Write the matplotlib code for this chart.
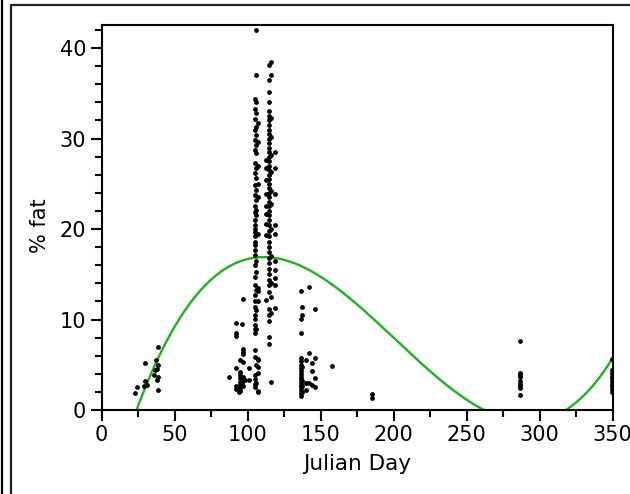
import numpy as np
import matplotlib
matplotlib.use("Agg")
import matplotlib.pyplot as plt
from matplotlib.lines import Line2D
from matplotlib.ticker import MultipleLocator

# ---- data ----
days_feb = [23, 24, 29, 30, 30, 31, 36, 36.5, 37.5, 38, 38, 38.5, 38.5, 39, 39]
fat_feb = [1.9, 2.5, 2.6, 3.2, 5.2, 2.8, 3.9, 4.4, 5.5, 4.5, 3.3, 3.7, 5.0, 2.2, 7.0]

days_apr = [87.5, 92, 92, 92, 92, 92, 92, 94, 95, 95, 95, 95, 95, 95, 95, 95,
            96, 96, 97, 97, 97, 97, 97, 97, 97, 97, 98.5, 101, 101]
fat_apr = [3.7, 9.6, 8.5, 8.2, 4.6, 2.6, 2.3, 2.0, 5.5, 4.2, 3.9, 3.5, 3.1, 2.8, 2.4, 2.1,
           9.5, 3.0, 12.3, 6.7, 6.4, 6.2, 5.3, 3.7, 3.3, 2.6, 3.3, 3.3, 4.6]

fat_d105 = [2.5, 2.9, 3.4, 3.9, 6.6, 5.9, 8.5, 8.9, 9.4, 10.1, 10.5, 11.4, 12.0, 12.7,
            13.8, 14.7, 16.0, 17.1, 17.7, 18.2, 18.6, 19.2, 19.7, 20.0, 20.4, 21.0,
            21.9, 22.6, 23.8, 24.9, 26.2, 27.3, 28.7, 29.8, 30.9, 32.2, 33.3, 34.4]
fat_d106 = [3.0, 5.0, 9.0, 11.0, 13.3, 15.3, 16.5, 21.5, 22.1, 23.2, 24.3, 25.6, 26.7,
            28.4, 29.3, 30.4, 31.3, 32.8, 34.0, 37.0, 42.0]
fat_d107 = [2.1, 2.0, 4.1, 4.8, 5.5, 5.6, 13.1, 13.5, 12.0, 19.5, 23.5, 25.0, 27.0, 29.6, 31.7]
fat_d112 = [12.2, 19.3, 20.6, 21.7, 22.6, 23.9, 25.4, 26.7, 27.6]
fat_d115 = [7.3, 8.1, 9.8, 10.5, 11.2, 13.0, 13.8, 14.4, 15.0, 15.6, 16.2, 16.8, 17.5,
            18.0, 18.6, 19.2, 19.8, 20.4, 21.0, 21.5, 22.0, 22.5, 23.0, 23.5, 24.0, 24.5,
            25.0, 25.5, 26.0, 26.5, 27.0, 27.5, 28.0, 28.5, 29.0, 29.5, 30.0, 30.5, 31.0,
            31.5, 32.0, 32.5, 33.1, 34.0, 35.2, 36.5, 38.1]
fat_d116 = [3.1, 10.7, 12.5, 14.0, 17.0, 20.0, 22.8, 24.2, 26.3, 28.2, 30.2, 32.3, 37.0, 38.5]
fat_d118 = [11.3, 13.8, 14.6, 15.5, 16.5, 19.5, 20.5, 23.9, 26.8, 28.5]
fat_d136 = [13.2, 10.1, 8.5, 5.8, 5.4, 5.0, 4.6, 4.3, 4.0, 3.7, 3.4, 3.1, 2.8, 2.5, 2.2, 1.9, 1.6]
fat_d137 = [11.4, 10.5, 4.8, 3.2, 2.6, 2.0]
fat_d140 = [5.5, 3.0, 2.2]
fat_d142 = [13.6, 6.3, 3.0]
fat_d144 = [5.2, 4.3, 2.8]
fat_d146 = [11.2, 5.7, 3.5, 2.5]
fat_d158 = [4.9]
fat_d185 = [1.3, 1.8]
fat_d286 = [7.6, 4.1, 3.9, 3.6, 3.2, 2.9, 2.7, 2.4, 1.7]
fat_d349 = [5.6, 4.4, 4.1, 3.8, 3.5, 3.2, 2.9, 2.6, 2.3, 2.0]

sample_days = [105, 106, 107.5, 112.5, 115, 116, 118.5, 136.5, 137.5, 140, 142,
               144.5, 146.5, 158, 185, 286.5, 349.5]
sample_fats = [fat_d105, fat_d106, fat_d107, fat_d112, fat_d115, fat_d116, fat_d118,
               fat_d136, fat_d137, fat_d140, fat_d142, fat_d144, fat_d146, fat_d158,
               fat_d185, fat_d286, fat_d349]

# fitted cubic curve (roots and scale)
fit_roots = [24, 262, 318]
fit_scale = 6.215e-6

x_ticks = [0, 50, 100, 150, 200, 250, 300, 350]
y_ticks = [0, 10, 20, 30, 40]

# ---- assemble ----
julian = list(days_feb) + list(days_apr)
fat = list(fat_feb) + list(fat_apr)
for d, vals in zip(sample_days, sample_fats):
    julian += [d] * len(vals)
    fat += list(vals)

plt.rcParams['font.family'] = ['DejaVu Sans']

fig = plt.figure(figsize=(6.30, 4.94), dpi=100)
W, H = 630, 494
left, right, top, bottom = 101.5, 612.5, 25, 410
ax = fig.add_axes([left / W, 1 - bottom / H, (right - left) / W, (bottom - top) / H])

ax.scatter(julian, fat, s=12, color='black', linewidths=0, zorder=3)

xx = np.linspace(0, 350, 600)
yy = fit_scale * np.polyval(np.poly(fit_roots), xx)
ax.plot(xx, yy, color='#1fb21f', lw=1.7, zorder=2)

ax.set_xlim(0, 350)
ax.set_ylim(0, 42.55)
ax.set_xticks(x_ticks)
ax.set_yticks(y_ticks)
ax.xaxis.set_minor_locator(MultipleLocator(25))
ax.yaxis.set_minor_locator(MultipleLocator(2))
ax.tick_params(which='major', direction='out', length=8, width=1.5, labelsize=15, pad=3)
ax.tick_params(which='minor', direction='out', length=5, width=1.5)
for sp in ax.spines.values():
    sp.set_linewidth(1.5)

ax.set_xlabel('Julian Day', fontsize=15.5)
ax.set_ylabel('% fat', fontsize=15)
ax.xaxis.set_label_coords(0.5, -0.115)
ax.yaxis.set_label_coords(-0.10, 0.48)

# outer frame lines
fig.add_artist(Line2D([2 / W, 2 / W], [0, 1], color='black', lw=1.6, transform=fig.transFigure))
fig.add_artist(Line2D([10.5 / W, 10.5 / W, 1.01], [0, 1 - 5.5 / H, 1 - 5.5 / H],
                      color='#222222', lw=1.6, transform=fig.transFigure))

fig.savefig('out.png', dpi=100)
